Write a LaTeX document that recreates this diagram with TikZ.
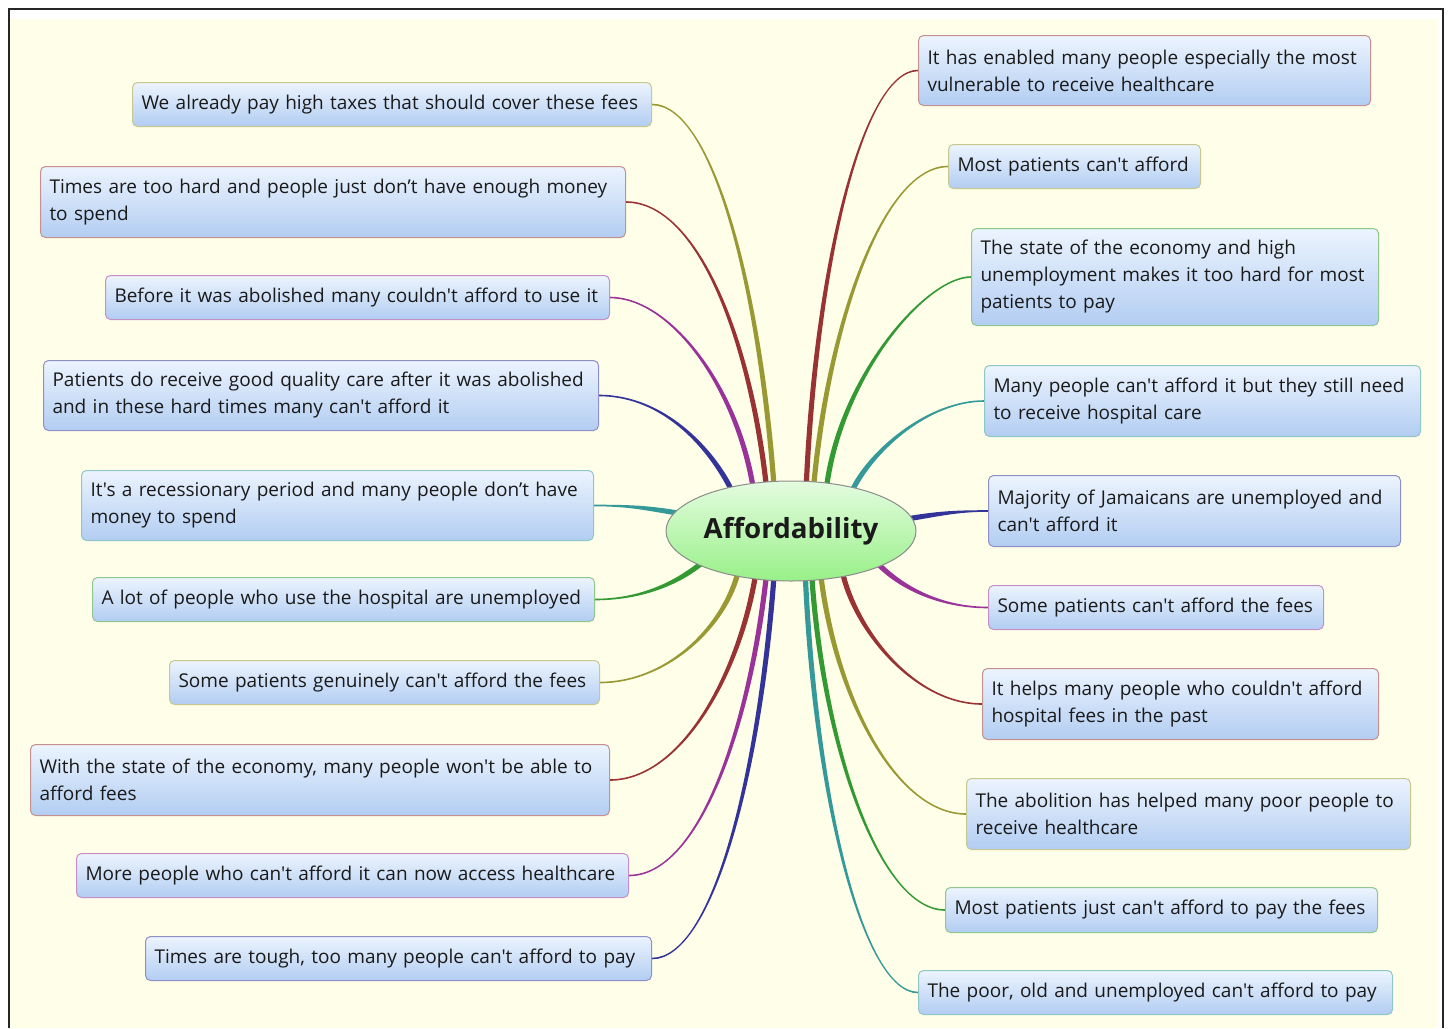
\documentclass[tikz,border=0pt]{standalone}
\usepackage{fontspec}
\newfontfamily\boxfont{Open Sans}
\usetikzlibrary{calc,shapes.geometric}
\pgfdeclarelayer{back}
\pgfsetlayers{back,main}

\definecolor{cOlive}{RGB}{153,153,51}
\definecolor{cRed}{RGB}{153,51,51}
\definecolor{cPurple}{RGB}{153,51,153}
\definecolor{cNavy}{RGB}{51,51,153}
\definecolor{cTeal}{RGB}{51,153,153}
\definecolor{cGreen}{RGB}{51,153,51}
\definecolor{paper}{RGB}{255,254,233}
\definecolor{boxTop}{RGB}{236,244,254}
\definecolor{boxBot}{RGB}{178,205,242}
\definecolor{hubTop}{RGB}{228,252,224}
\definecolor{hubBot}{RGB}{152,240,136}
\definecolor{ink}{RGB}{26,26,26}

% tapered branch: colour, hub anchor, topic anchor, hub handle, topic handle
\newcommand\mmlink[5]{%
  \path ($(#2)!3pt!(c.center)$) coordinate (bS)
        ($(bS)+(#4)$) coordinate (bA)
        (#3) coordinate (bE)
        ($(bE)+(#5)$) coordinate (bB);
  \fill[#1] ($(bS)!2.6pt!90:(bA)$) .. controls ($(bA)!2.6pt!-90:(bS)$) and ($(bB)!0.8pt!90:(bE)$) .. ($(bE)!0.8pt!-90:(bB)$)
     -- ($(bE)!0.8pt!90:(bB)$) .. controls ($(bB)!0.8pt!-90:(bE)$) and ($(bA)!2.6pt!90:(bS)$) .. ($(bS)!2.6pt!-90:(bA)$) -- cycle;}

\begin{document}
\begin{tikzpicture}[x=1pt,y=-1pt,
  topic/.style={rectangle, rounded corners=5, line width=1, anchor=north west,
    inner xsep=9, inner ysep=0, align=left, top color=boxTop, bottom color=boxBot,
    text=ink, draw=#1!55!white, font=\boxfont\fontsize{19}{27}\selectfont},
  hub/.style={ellipse, minimum width=250, minimum height=100, inner sep=0,
    top color=hubTop, bottom color=hubBot, draw=black!45, line width=1,
    text=ink, font=\boxfont\fontsize{27.7}{30}\selectfont\bfseries}]
\useasboundingbox (0,0) rectangle (1448,1028);

\begin{pgfonlayer}{back}
  \fill[white] (0,0) rectangle (1448,1028);
  \fill[paper] (10,19) rectangle (1438,1028);
  \draw[line width=2, black!85] (9,1028) -- (9,9) -- (1443,9) -- (1443,1028);
\end{pgfonlayer}

\node[hub] (c) at (791,531) {Affordability};

% left topics
\node[topic=cOlive, text width=501, minimum height=44] (l1) at (132,82) {We already pay high taxes that should cover these fees};
\node[topic=cRed, text width=567, minimum height=71] (l2) at (40,166) {Times are too hard and people just don’t have enough money\\to spend};
\node[topic=cPurple, text width=486, minimum height=44] (l3) at (105,275) {Before it was abolished many couldn't afford to use it};
\node[topic=cNavy, text width=537, minimum height=70] (l4) at (43,360) {Patients do receive good quality care after it was abolished\\and in these hard times many can't afford it};
\node[topic=cTeal, text width=494, minimum height=70] (l5) at (81,470) {It's a recessionary period and many people don’t have\\money to spend};
\node[topic=cGreen, text width=484, minimum height=44] (l6) at (92,577) {A lot of people who use the hospital are unemployed};
\node[topic=cOlive, text width=412, minimum height=44] (l7) at (169,660) {Some patients genuinely can't afford the fees};
\node[topic=cRed, text width=561, minimum height=71] (l8) at (30,744) {With the state of the economy, many people won't be able to\\afford fees};
\node[topic=cPurple, text width=534, minimum height=44] (l9) at (76,853) {More people who can't afford it can now access healthcare};
\node[topic=cNavy, text width=488, minimum height=44] (l10) at (145,936) {Times are tough, too many people can't afford to pay};

% right topics
\node[topic=cRed, text width=434, minimum height=70] (r1) at (918,35) {It has enabled many people especially the most\\vulnerable to receive healthcare};
\node[topic=cOlive, text width=234, minimum height=44] (r2) at (948,144) {Most patients can't afford};
\node[topic=cGreen, text width=389, minimum height=97] (r3) at (971,228) {The state of the economy and high\\unemployment makes it too hard for most\\patients to pay};
\node[topic=cTeal, text width=418, minimum height=71] (r4) at (984,365) {Many people can't afford it but they still need\\to receive hospital care};
\node[topic=cNavy, text width=394, minimum height=71] (r5) at (988,475) {Majority of Jamaicans are unemployed and\\can't afford it};
\node[topic=cPurple, text width=317, minimum height=44] (r6) at (988,585) {Some patients can't afford the fees};
\node[topic=cRed, text width=378, minimum height=71] (r7) at (982,668) {It helps many people who couldn't afford\\hospital fees in the past};
\node[topic=cOlive, text width=426, minimum height=71] (r8) at (966,778) {The abolition has helped many poor people to\\receive healthcare};
\node[topic=cGreen, text width=414, minimum height=45] (r9) at (945,887) {Most patients just can't afford to pay the fees};
\node[topic=cTeal, text width=456, minimum height=44] (r10) at (918,970) {The poor, old and unemployed can't afford to pay};

\begin{pgfonlayer}{back}
  \mmlink{cOlive}{c.110}{l1.east}{-15,-200}{60,0}
  \mmlink{cRed}{c.118}{l2.east}{-17,-150}{70,0}
  \mmlink{cPurple}{c.130}{l3.east}{-17,-100}{60,0}
  \mmlink{cNavy}{c.145}{l4.east}{-20,-40}{65,0}
  \mmlink{cTeal}{c.171}{l5.east}{-30,-5}{35,0}
  \mmlink{cGreen}{c.200}{l6.east}{-25,20}{45,0}
  \mmlink{cOlive}{c.219}{l7.east}{-15,55}{65,0}
  \mmlink{cRed}{c.232}{l8.east}{-17,100}{70,0}
  \mmlink{cPurple}{c.242}{l9.east}{-17,150}{70,0}
  \mmlink{cNavy}{c.250}{l10.east}{-15,200}{60,0}
  \mmlink{cRed}{c.72}{r1.west}{10,-220}{-55,0}
  \mmlink{cOlive}{c.64}{r2.west}{15,-160}{-65,0}
  \mmlink{cGreen}{c.52}{r3.west}{15,-110}{-45,0}
  \mmlink{cTeal}{c.34}{r4.west}{20,-40}{-55,0}
  \mmlink{cNavy}{c.6}{r5.west}{30,-5}{-30,0}
  \mmlink{cPurple}{c.339}{r6.west}{25,25}{-45,0}
  \mmlink{cRed}{c.320}{r7.west}{15,60}{-65,0}
  \mmlink{cOlive}{c.303}{r8.west}{15,120}{-70,0}
  \mmlink{cGreen}{c.294}{r9.west}{12,170}{-65,0}
  \mmlink{cTeal}{c.287}{r10.west}{10,220}{-55,0}
\end{pgfonlayer}
\end{tikzpicture}
\end{document}
